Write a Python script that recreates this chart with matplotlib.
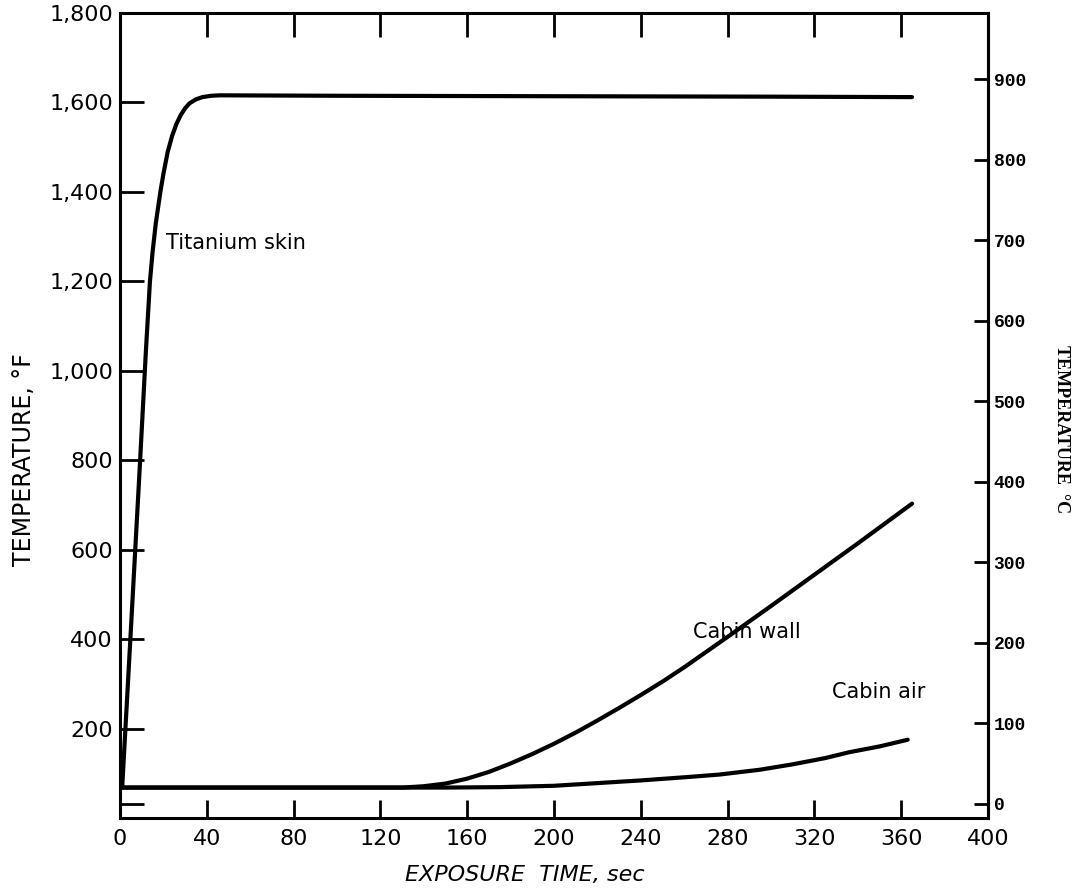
import matplotlib
matplotlib.use("Agg")
import matplotlib.pyplot as plt

# exposure time (sec) and temperature (deg F)
ti_time = [1, 5, 9, 12, 13.8, 15, 16.5, 18.6, 20, 22, 24, 26, 28, 30, 32, 35, 38, 42, 46, 100, 200, 300, 365]
ti_temp = [68, 420, 775, 1050, 1200, 1265, 1330, 1400, 1440, 1490, 1525, 1552, 1572, 1587, 1598, 1607, 1612, 1615, 1616, 1615, 1614, 1613, 1612]

wall_time = [0, 120, 130, 140, 150, 160, 170, 180, 190, 200, 210, 220, 230, 240, 250, 260, 280, 300, 320, 340, 365]
wall_temp = [68, 68, 68, 71, 77, 88, 103, 122, 143, 166, 191, 218, 246, 275, 305, 337, 405, 474, 544, 614, 703]

air_time = [0, 150, 175, 200, 220, 240, 260, 276, 295, 310, 325, 336, 350, 363]
air_temp = [68, 68, 69, 72, 78, 84, 91, 97, 108, 120, 134, 147, 160, 175]

x_ticks = [0, 40, 80, 120, 160, 200, 240, 280, 320, 360, 400]
x_labels = ["0", "40", "80", "120", "160", "200", "240", "280", "320", "360", "400"]
f_ticks = [32, 200, 400, 600, 800, 1000, 1200, 1400, 1600, 1800]
f_labels = ["", "200", "400", "600", "800", "1,000", "1,200", "1,400", "1,600", "1,800"]
c_ticks = [0, 100, 200, 300, 400, 500, 600, 700, 800, 900]

labels = ["Titanium skin", "Cabin wall", "Cabin air"]
label_pos = [(21, 1285), (264, 416), (328, 281)]


def f_to_c(f):
    return (f - 32) * 5.0 / 9.0


def c_to_f(c):
    return c * 9.0 / 5.0 + 32


fig = plt.figure(figsize=(10.85, 8.93), dpi=100)
ax = fig.add_axes([0.1106, 0.0840, 0.8, 0.9014])

lw = 3.0
ax.plot(ti_time, ti_temp, color="black", lw=lw, solid_capstyle="round", solid_joinstyle="round")
ax.plot(wall_time, wall_temp, color="black", lw=lw, solid_capstyle="round", solid_joinstyle="round")
ax.plot(air_time, air_temp, color="black", lw=lw, solid_capstyle="round", solid_joinstyle="round")

for txt, (x, y) in zip(labels, label_pos):
    ax.text(x, y, txt, fontsize=15, va="center", ha="left", family="DejaVu Sans")

ax.set_xlim(0, 400)
ax.set_ylim(0, 1800)

for sp in ax.spines.values():
    sp.set_linewidth(2.2)

ax.set_xticks(x_ticks)
ax.set_xticklabels(x_labels, fontsize=16)
ax.tick_params(axis="x", direction="in", length=13, width=2, pad=8)
ax.set_yticks(f_ticks)
ax.set_yticklabels(f_labels, fontsize=16)
ax.tick_params(axis="y", direction="in", length=17, width=2, pad=5)

top = ax.secondary_xaxis("top")
top.set_xticks(x_ticks[1:-1])
top.tick_params(direction="in", length=17, width=2, labeltop=False)

right = ax.secondary_yaxis("right", functions=(f_to_c, c_to_f))
right.set_yticks(c_ticks)
right.set_yticklabels([str(c) for c in c_ticks], fontsize=13,
                      family="Liberation Mono", fontweight="bold")
right.tick_params(direction="in", length=10, width=2, pad=4)
right.spines["right"].set_linewidth(2.2)

fig.text(0.484, 0.020, "EXPOSURE  TIME, sec", fontsize=16, style="italic",
         ha="center", va="center")
fig.text(0.022, 0.485, "TEMPERATURE, °F", rotation=90, fontsize=17,
         ha="center", va="center")
fig.text(0.978, 0.52, "TEMPERATURE  °C", rotation=270, fontsize=13,
         family="Liberation Serif", fontweight="bold", ha="center", va="center")

fig.savefig("out.png", dpi=100)
